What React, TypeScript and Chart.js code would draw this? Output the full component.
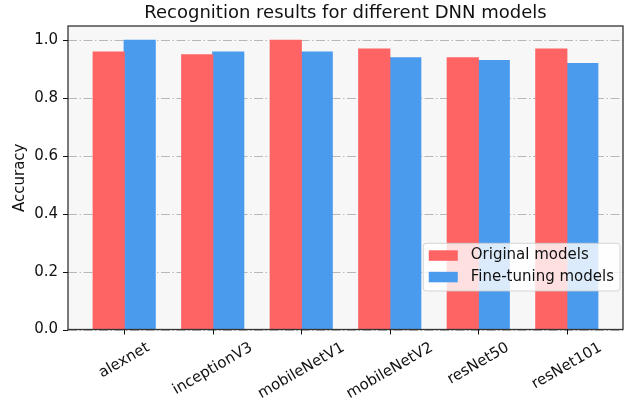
import React, { useEffect, useRef } from 'react';
import { Chart, registerables } from 'chart.js';

Chart.register(...registerables);

const categories = ['alexnet', 'inceptionV3', 'mobileNetV1', 'mobileNetV2', 'resNet50', 'resNet101'];
const originalValues = [0.96, 0.95, 1.0, 0.97, 0.94, 0.97];
const fineTuningValues = [1.0, 0.96, 0.96, 0.94, 0.93, 0.92];
const yTickValues = [0, 0.2, 0.4, 0.6, 0.8, 1.0];
const seriesLabels = ['Original models', 'Fine-tuning models'];
const titleText = 'Recognition results for different DNN models';
const yAxisLabel = 'Accuracy';

const FONT = "'DejaVu Sans', 'Liberation Sans', sans-serif";
const RED = '#FF6464';
const BLUE = '#4A9BEE';
const TEXT = '#111';
const FS = 15;

const mplPlugin = {
  id: 'mplLook',
  beforeDraw(chart: any) {
    const { ctx, chartArea: a } = chart;
    ctx.save();
    ctx.fillStyle = '#ffffff';
    ctx.fillRect(0, 0, chart.width, chart.height);
    ctx.fillStyle = '#f7f7f7';
    ctx.fillRect(a.left, a.top, a.right - a.left, a.bottom - a.top);
    ctx.restore();
  },
  beforeDatasetsDraw(chart: any) {
    const { ctx, chartArea: a } = chart;
    const ys = chart.scales.y;
    ctx.save();
    ctx.strokeStyle = '#b8b8b8';
    ctx.lineWidth = 1;
    ctx.setLineDash([9, 2.5, 1.5, 2.5]);
    yTickValues.forEach((v) => {
      const y = Math.round(ys.getPixelForValue(v)) + 0.5;
      ctx.beginPath();
      ctx.moveTo(a.left, y);
      ctx.lineTo(a.right, y);
      ctx.stroke();
    });
    ctx.restore();
  },
  afterDatasetsDraw(chart: any) {
    const { ctx, chartArea: a } = chart;
    const xs = chart.scales.x;
    const ys = chart.scales.y;
    ctx.save();
    // spines
    ctx.setLineDash([]);
    ctx.strokeStyle = '#333';
    ctx.lineWidth = 1.3;
    ctx.strokeRect(a.left, a.top, a.right - a.left, a.bottom - a.top);
    // tick marks
    ctx.strokeStyle = '#111';
    ctx.lineWidth = 1;
    yTickValues.forEach((v) => {
      const y = Math.round(ys.getPixelForValue(v)) + 0.5;
      ctx.beginPath();
      ctx.moveTo(a.left - 5, y);
      ctx.lineTo(a.left, y);
      ctx.stroke();
    });
    categories.forEach((_, i) => {
      const x = Math.round(xs.getPixelForValue(i)) + 0.5;
      ctx.beginPath();
      ctx.moveTo(x, a.bottom);
      ctx.lineTo(x, a.bottom + 5);
      ctx.stroke();
    });
    // x tick labels, rotated 30deg, centred on tick
    ctx.fillStyle = TEXT;
    ctx.font = `${FS}px ${FONT}`;
    const rot = (30 * Math.PI) / 180;
    categories.forEach((c, i) => {
      const px = xs.getPixelForValue(i);
      const w = ctx.measureText(c).width;
      const h = FS * 1.16;
      const bh = w * Math.sin(rot) + h * Math.cos(rot);
      const cy = a.bottom + 5 + 4.5 + bh / 2;
      ctx.save();
      ctx.translate(px, cy);
      ctx.rotate(-rot);
      ctx.textAlign = 'center';
      ctx.textBaseline = 'middle';
      ctx.fillText(c, 0, 0);
      ctx.restore();
    });
    // title
    ctx.font = `18px ${FONT}`;
    ctx.textAlign = 'center';
    ctx.textBaseline = 'alphabetic';
    ctx.fillText(titleText, (a.left + a.right) / 2, 17.5);
    // y axis label
    ctx.font = `${FS}px ${FONT}`;
    ctx.save();
    ctx.translate(20, (a.top + a.bottom) / 2);
    ctx.rotate(-Math.PI / 2);
    ctx.textAlign = 'center';
    ctx.textBaseline = 'middle';
    ctx.fillText(yAxisLabel, 0, 0);
    ctx.restore();
    // legend
    const tw = Math.max(...seriesLabels.map((s) => ctx.measureText(s).width));
    const boxW = 47.5 + tw + 6;
    const right = a.right - 3;
    const bottom = a.bottom - 38.5;
    const boxH = 47.7;
    const top = bottom - boxH;
    const left = right - boxW;
    const r = 3;
    ctx.beginPath();
    ctx.moveTo(left + r, top);
    ctx.lineTo(right - r, top);
    ctx.arcTo(right, top, right, top + r, r);
    ctx.lineTo(right, bottom - r);
    ctx.arcTo(right, bottom, right - r, bottom, r);
    ctx.lineTo(left + r, bottom);
    ctx.arcTo(left, bottom, left, bottom - r, r);
    ctx.lineTo(left, top + r);
    ctx.arcTo(left, top, left + r, top, r);
    ctx.closePath();
    ctx.fillStyle = 'rgba(255,255,255,0.8)';
    ctx.fill();
    ctx.strokeStyle = 'rgba(204,204,204,0.8)';
    ctx.lineWidth = 1;
    ctx.stroke();
    const rows = [12.2, 33.7];
    const colors = [RED, BLUE];
    seriesLabels.forEach((s, i) => {
      const cy = top + rows[i];
      ctx.fillStyle = colors[i];
      ctx.fillRect(left + 5.5, cy - 5.2, 29, 10.5);
      ctx.fillStyle = TEXT;
      ctx.textAlign = 'left';
      ctx.textBaseline = 'middle';
      ctx.fillText(s, left + 47.5, cy);
    });
    ctx.restore();
  },
};

export default function App() {
  const ref = useRef<HTMLCanvasElement | null>(null);
  useEffect(() => {
    document.body.style.margin = '0';
    if (!ref.current) return;
    const chart = new Chart(ref.current, {
      type: 'bar',
      data: {
        datasets: [
          {
            label: seriesLabels[0],
            data: originalValues.map((v, i) => ({ x: i, y: v })),
            backgroundColor: RED,
            borderWidth: 0,
            inflateAmount: 0.6,
          },
          {
            label: seriesLabels[1],
            data: fineTuningValues.map((v, i) => ({ x: i, y: v })),
            backgroundColor: BLUE,
            borderWidth: 0,
            inflateAmount: 0.6,
          },
        ],
      },
      options: {
        responsive: false,
        animation: false,
        devicePixelRatio: 1,
        layout: { padding: { top: 26, right: 18, left: 0, bottom: 0 } },
        datasets: { bar: { categoryPercentage: 0.7, barPercentage: 1.0 } },
        plugins: {
          legend: { display: false },
          title: { display: false },
          tooltip: { enabled: false },
        },
        scales: {
          x: {
            type: 'linear',
            min: -0.635,
            max: 5.635,
            offset: false,
            grid: { display: false, drawTicks: false, offset: false },
            border: { display: false },
            ticks: { display: false },
            afterBuildTicks: (s: any) => {
              s.ticks = categories.map((_, i) => ({ value: i }));
            },
            afterFit: (s: any) => {
              s.height = 73.5;
            },
          },
          y: {
            type: 'linear',
            min: 0,
            max: 1.05,
            grid: { display: false, drawTicks: false },
            border: { display: false },
            afterBuildTicks: (s: any) => {
              s.ticks = yTickValues.map((v) => ({ value: v }));
            },
            afterFit: (s: any) => {
              s.width = 68;
            },
            ticks: {
              padding: 10,
              color: TEXT,
              font: { family: FONT, size: FS },
              callback: (v: any) => Number(v).toFixed(1),
            },
          },
        },
      } as any,
      plugins: [mplPlugin],
    });
    return () => chart.destroy();
  }, []);
  return (
    <div style={{ position: 'absolute', left: 0, top: 0, width: 641, height: 403 }}>
      <canvas ref={ref} width={641} height={403} />
    </div>
  );
}
